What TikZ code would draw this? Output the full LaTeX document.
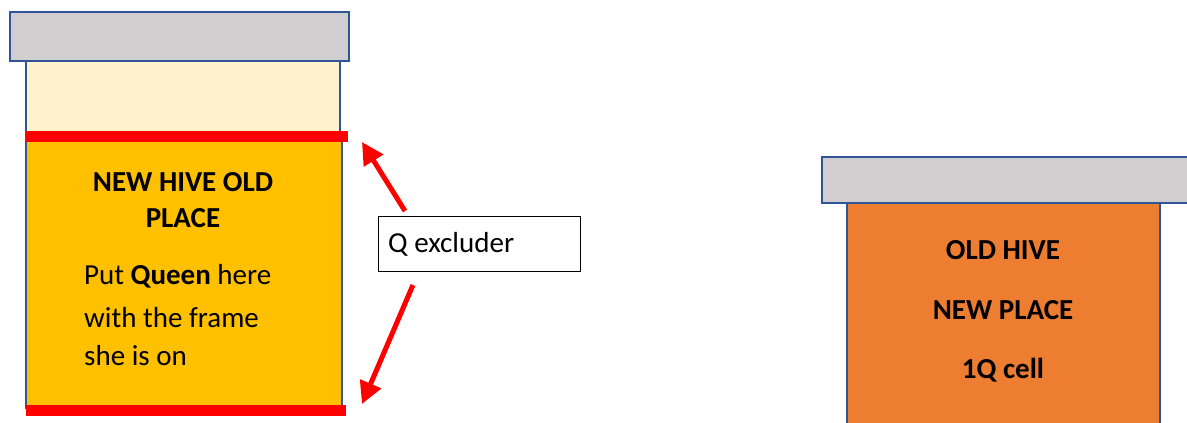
\documentclass[tikz,border=0pt]{standalone}
\usepackage{fontspec}
\setmainfont{Carlito}
\usetikzlibrary{arrows.meta}
\definecolor{lidgray}{HTML}{D0CECE}
\definecolor{outl}{HTML}{2F5597}
\definecolor{cream}{HTML}{FFF2CC}
\definecolor{gold}{HTML}{FFC000}
\definecolor{orng}{HTML}{ED7D31}
\definecolor{redx}{HTML}{FF0000}
\tikzset{
  part/.style={draw=outl, line width=2pt, inner sep=0pt, outer sep=0pt, anchor=north west},
  bar/.style={fill=redx, draw=none, inner sep=0pt, outer sep=0pt, anchor=north west},
  txt/.style={font=\fontsize{29}{40}\selectfont, inner sep=0pt},
  ttl/.style={font=\fontsize{29}{40}\selectfont\bfseries, inner sep=0pt},
  redarrow/.style={draw=redx, line width=5pt, -{Triangle[length=22pt,width=22pt]}}
}
\begin{document}
\begin{tikzpicture}[x=1pt,y=-1pt]
\useasboundingbox (0,0) rectangle (1187,423);
% left hive
\node[part, fill=cream, minimum width=314pt, minimum height=82pt] (upper) at (26,61) {};
\node[part, fill=gold, minimum width=316pt, minimum height=267pt] (lower) at (26,141) {};
\node[part, fill=lidgray, minimum width=339pt, minimum height=49pt] (lid) at (10,12) {};
\node[bar, minimum width=322pt, minimum height=11pt] (bartop) at (26,131) {};
\node[bar, minimum width=320pt, minimum height=11pt] (barbot) at (26,405) {};
\node[ttl] (t1) at (183,182) {NEW HIVE OLD};
\node[ttl] (t2) at (183,218) {PLACE};
\node[txt, anchor=west] (t3) at (84,276) {Put \textbf{Queen} here};
\node[txt, anchor=west] (t4) at (84,318) {with the frame};
\node[txt, anchor=west] (t5) at (84,356) {she is on};
% Q excluder
\node[draw=black, line width=1pt, minimum width=202pt, minimum height=55pt, inner sep=0pt, anchor=north west] (qbox) at (378,216) {};
\node[txt, anchor=west] (qtxt) at (388,244) {Q excluder};
\coordinate (a1s) at (405,211);
\coordinate (a1e) at (362,142);
\coordinate (a2s) at (413,285);
\coordinate (a2e) at (362,404);
\draw[redarrow] (a1s) -- (a1e);
\draw[redarrow] (a2s) -- (a2e);
% right hive
\node[part, fill=orng, minimum width=313pt, minimum height=240pt] (obox) at (847,203) {};
\node[part, fill=lidgray, minimum width=380pt, minimum height=46pt] (lid2) at (822,157) {};
\node[ttl] (r1) at (1003,250) {OLD HIVE};
\node[ttl] (r2) at (1003,310) {NEW PLACE};
\node[ttl] (r3) at (1003,370) {1Q cell};
\end{tikzpicture}
\end{document}
